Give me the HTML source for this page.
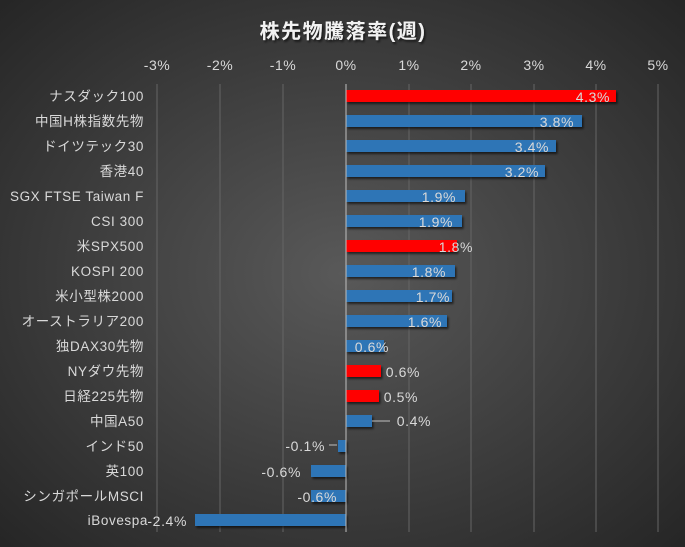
<!DOCTYPE html>
<html><head><meta charset="utf-8"><style>
html,body{margin:0;padding:0;background:#333;}
svg{display:block;font-family:"Liberation Sans","Noto Sans CJK JP",sans-serif;}
</style></head><body>
<svg width="685" height="547" viewBox="0 0 685 547" xmlns="http://www.w3.org/2000/svg">
<defs>
<radialGradient id="bg" cx="50%" cy="50%" r="70%">
<stop offset="0" stop-color="#595959"/><stop offset="1" stop-color="#262626"/>
</radialGradient>
<filter id="sh" x="-5%" y="-20%" width="110%" height="160%"><feDropShadow dx="1.5" dy="2" stdDeviation="1" flood-color="#000" flood-opacity="0.6"/></filter>
</defs>
<rect width="685" height="547" fill="url(#bg)"/>
<text x="343" y="38" text-anchor="middle" font-size="20" font-weight="bold" letter-spacing="1.5" fill="#f2f2f2" filter="url(#sh)">株先物騰落率(週)</text>
<g stroke="#656565" stroke-width="1">
<line x1="157" y1="84" x2="157" y2="532"/><line x1="220" y1="84" x2="220" y2="532"/><line x1="283" y1="84" x2="283" y2="532"/>
<line x1="409" y1="84" x2="409" y2="532"/><line x1="471" y1="84" x2="471" y2="532"/><line x1="534" y1="84" x2="534" y2="532"/>
<line x1="596" y1="84" x2="596" y2="532"/><line x1="658" y1="84" x2="658" y2="532"/>
</g>
<g font-size="14" fill="#d9d9d9" text-anchor="middle" letter-spacing="0.5">
<text x="157" y="70">-3%</text><text x="220" y="70">-2%</text><text x="283" y="70">-1%</text><text x="346" y="70">0%</text>
<text x="409" y="70">1%</text><text x="471" y="70">2%</text><text x="534" y="70">3%</text><text x="596" y="70">4%</text><text x="658" y="70">5%</text>
</g>
<g filter="url(#sh)">
<rect x="346" y="90" width="270" height="12" fill="#ff0000"/>
<rect x="346" y="115" width="236" height="12" fill="#2e75b6"/>
<rect x="346" y="140" width="210" height="12" fill="#2e75b6"/>
<rect x="346" y="165" width="199" height="12" fill="#2e75b6"/>
<rect x="346" y="190" width="119" height="12" fill="#2e75b6"/>
<rect x="346" y="215" width="116" height="12" fill="#2e75b6"/>
<rect x="346" y="240" width="111" height="12" fill="#ff0000"/>
<rect x="346" y="265" width="109" height="12" fill="#2e75b6"/>
<rect x="346" y="290" width="106" height="12" fill="#2e75b6"/>
<rect x="346" y="315" width="101" height="12" fill="#2e75b6"/>
<rect x="346" y="340" width="38" height="12" fill="#2e75b6"/>
<rect x="346" y="365" width="35" height="12" fill="#ff0000"/>
<rect x="346" y="390" width="33" height="12" fill="#ff0000"/>
<rect x="346" y="415" width="26" height="12" fill="#2e75b6"/>
<rect x="338" y="440" width="8" height="12" fill="#2e75b6"/>
<rect x="311" y="465" width="35" height="12" fill="#2e75b6"/>
<rect x="311" y="490" width="35" height="12" fill="#2e75b6"/>
<rect x="195" y="514" width="151" height="12" fill="#2e75b6"/>
</g>
<line x1="346" y1="84" x2="346" y2="532" stroke="#bfbfbf" stroke-width="1"/>
<g stroke="#bfbfbf" stroke-width="1"><line x1="372" y1="421" x2="390" y2="421"/><line x1="329" y1="445" x2="337" y2="445"/></g>
<g font-size="13.5" fill="#d9d9d9" text-anchor="end" letter-spacing="0.6">
<text x="144" y="101">ナスダック100</text>
<text x="144" y="126">中国H株指数先物</text>
<text x="144" y="151">ドイツテック30</text>
<text x="144" y="176">香港40</text>
<text x="144" y="201" textLength="134">SGX FTSE Taiwan F</text>
<text x="144" y="226">CSI 300</text>
<text x="144" y="251">米SPX500</text>
<text x="144" y="276">KOSPI 200</text>
<text x="144" y="301">米小型株2000</text>
<text x="144" y="326">オーストラリア200</text>
<text x="144" y="351">独DAX30先物</text>
<text x="144" y="376">NYダウ先物</text>
<text x="144" y="401">日経225先物</text>
<text x="144" y="426">中国A50</text>
<text x="144" y="451">インド50</text>
<text x="144" y="476">英100</text>
<text x="144" y="501">シンガポールMSCI</text>
<text x="148" y="525">iBovespa</text>
</g>
<g font-size="14" fill="#d9d9d9" text-anchor="end" letter-spacing="0.6">
<text x="610" y="102">4.3%</text>
<text x="574" y="127">3.8%</text>
<text x="549" y="152">3.4%</text>
<text x="539" y="177">3.2%</text>
<text x="456" y="202">1.9%</text>
<text x="453" y="227">1.9%</text>
<text x="473" y="252">1.8%</text>
<text x="446" y="277">1.8%</text>
<text x="450" y="302">1.7%</text>
<text x="442" y="327">1.6%</text>
<text x="389" y="352">0.6%</text>
<text x="420" y="377">0.6%</text>
<text x="418" y="402">0.5%</text>
<text x="431" y="426">0.4%</text>
<text x="325" y="451">-0.1%</text>
<text x="301" y="477">-0.6%</text>
<text x="337" y="502">-0.6%</text>
<text x="187" y="526">-2.4%</text>
</g>
</svg>
</body></html>
